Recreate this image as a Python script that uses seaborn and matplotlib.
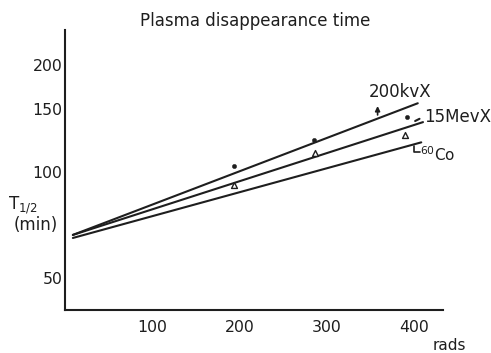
import numpy as np
import pandas as pd
import matplotlib
matplotlib.use("Agg")
import matplotlib.pyplot as plt
from matplotlib.ticker import FixedLocator, NullLocator, FixedFormatter
import seaborn as sns

# ---- data ----
series = ["200kvX", "15MevX", "60Co"]
line_x_start = [9, 9, 9]
line_x_end = [404, 410, 408]
line_y_start = [66.3, 66.3, 65.0]
line_y_end = [156, 138, 121]

dot_x = [193, 285, 392]
dot_y = [104, 123, 143]
tri_x = [193, 286, 389]
tri_y = [92, 113, 127]

x_ticks = [100, 200, 300, 400]
y_ticks = [50, 100, 150, 200]
y_tick_labels = ["50", "100", "150", "200"]

sns.set_style("white")
plt.rcParams["font.family"] = ["DejaVu Sans"]

fig = plt.figure(figsize=(4.91, 3.53), dpi=100)
ax = fig.add_axes([0.1324, 0.1218, 0.770, 0.793])

rows = []
for s, x0, x1, y0, y1 in zip(series, line_x_start, line_x_end, line_y_start, line_y_end):
    rows.append({"series": s, "rads": x0, "T": y0})
    rows.append({"series": s, "rads": x1, "T": y1})
lines_df = pd.DataFrame(rows)

sns.lineplot(data=lines_df, x="rads", y="T", units="series", estimator=None,
             color="#1e1e1e", linewidth=1.5, ax=ax, legend=False)

sns.scatterplot(x=dot_x, y=dot_y, color="#1e1e1e", s=10, marker="o",
                edgecolor="#1e1e1e", ax=ax, legend=False, zorder=5)
sns.scatterplot(x=tri_x, y=tri_y, marker="^", s=18, facecolor="white",
                edgecolor="#1e1e1e", linewidth=1.0, ax=ax, legend=False, zorder=5)

ax.set_yscale("log")
ax.set_xlim(0, 433)
ax.set_ylim(40.7, 251)

ax.xaxis.set_major_locator(FixedLocator(x_ticks))
ax.xaxis.set_minor_locator(NullLocator())
ax.yaxis.set_major_locator(FixedLocator(y_ticks))
ax.yaxis.set_major_formatter(FixedFormatter(y_tick_labels))
ax.yaxis.set_minor_locator(NullLocator())

ax.tick_params(axis="both", which="major", direction="inout", length=4,
               width=1.3, color="#1e1e1e", labelsize=11.3, labelcolor="#1e1e1e")
ax.tick_params(axis="y", pad=0)
ax.tick_params(axis="x", pad=5)

for side in ["top", "right"]:
    ax.spines[side].set_visible(False)
for side in ["left", "bottom"]:
    ax.spines[side].set_linewidth(1.5)
    ax.spines[side].set_color("#1e1e1e")

ax.set_xlabel("")
ax.set_ylabel("")
ax.grid(False)

# series labels
ax.text(348, 168, "200kvX", fontsize=12, ha="left", va="center", color="#1e1e1e")
ax.text(411, 143, "15MevX", fontsize=12, ha="left", va="center", color="#1e1e1e")
ax.text(406, 111.5, "$^{60}$Co", fontsize=11, ha="left", va="center", color="#1e1e1e")

# pointer marks
ax.annotate("", xy=(358, 156), xytext=(358, 142),
            arrowprops=dict(arrowstyle="-|>", color="#1e1e1e", lw=1.2,
                            mutation_scale=7))
ax.plot([401, 406], [139, 141], color="#1e1e1e", lw=1.5)
ax.plot([400, 400, 406], [118, 114, 114], color="#1e1e1e", lw=1.2)

# title and axis labels
fig.text(255 / 491, 1 - 21 / 353, "Plasma disappearance time", fontsize=12,
         ha="center", va="center", color="#1e1e1e")
fig.text(8 / 491, 1 - 205 / 353, "T$_{1/2}$", fontsize=12,
         ha="left", va="center", color="#1e1e1e")
fig.text(14 / 491, 1 - 225 / 353, "(min)", fontsize=12,
         ha="left", va="center", color="#1e1e1e")
fig.text(449 / 491, 1 - 346 / 353, "rads", fontsize=11,
         ha="center", va="center", color="#1e1e1e")

fig.savefig("out.png", dpi=100, facecolor="white")
